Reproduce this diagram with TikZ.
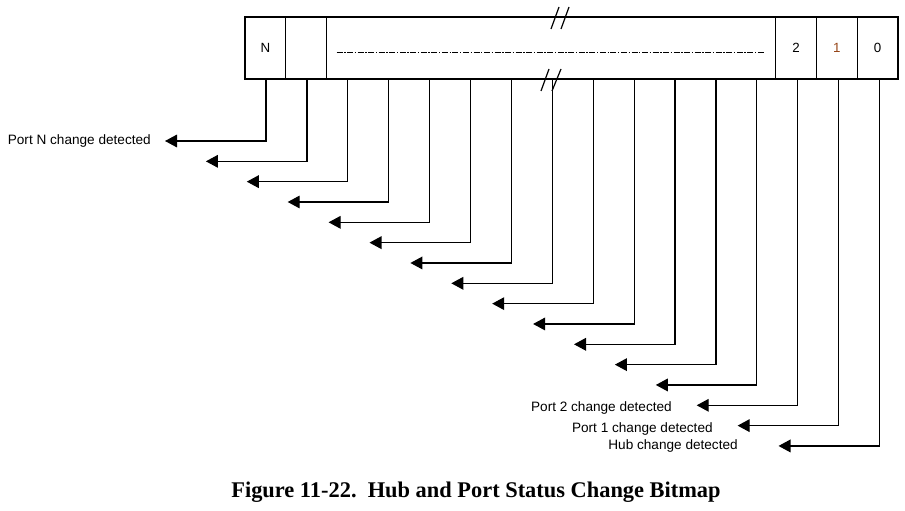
\documentclass[tikz,border=0pt]{standalone}
\usepackage{fontspec}
\setmainfont{Liberation Serif}
\newfontfamily\arialfont{Liberation Sans}
\usetikzlibrary{positioning,arrows.meta}

\definecolor{bitone}{RGB}{150,70,25}

\tikzset{
  cell/.style={draw, line width=1pt, minimum width=30.6pt, minimum height=46.5pt,
    inner sep=0pt, outer sep=0pt, font=\arialfont\fontsize{10}{12}\selectfont},
  lbl/.style={inner sep=0pt, font=\arialfont\fontsize{10.2}{12}\selectfont},
  bitline/.style={->, line width=0.9pt},
}

\begin{document}
\begin{tikzpicture}[x=0.75pt, y=-0.75pt, >={Triangle[length=9pt,width=9.5pt]}]
  \useasboundingbox (0,0) rectangle (905,510);
  % the bitmap
  \node [cell, anchor=north west] (bitN) at (245,17) {N};
  \node [cell, right=0pt of bitN] (bitM) {};
  \node [cell, right=0pt of bitM, minimum width=336.75pt] (mid) {};
  \node [cell, right=0pt of mid] (bit2) {2};
  \node [cell, right=0pt of bit2, text=bitone] (bit1) {1};
  \node [cell, right=0pt of bit1] (bit0) {0};
  \draw [line width=0.6pt, dash pattern=on 4.5pt off 1.2pt on 1pt off 1.2pt]
    ([xshift=7.5pt, yshift=-3pt]mid.west) -- ([xshift=-8pt, yshift=-3pt]mid.east);
  % break marks
  \draw [line width=0.9pt] (551,29) -- (559,7) (561,29) -- (569,7);
  \draw [line width=0.9pt] (541,91) -- (549,69) (552,91) -- (561,69);
  % one line per bit
  \foreach \i in {0,...,15} {
    \coordinate (tap\i) at ({266+40.9*\i},79);
    \coordinate (tip\i) at ({165+40.9*\i},{141+20.33*\i});
    \draw [bitline] (tap\i) |- (tip\i);
  }
  \node [lbl, left=10.5pt of tip0] (labN) {Port N change detected};
  \node [lbl, left=18.5pt of tip13, yshift=-2.2pt] (lab2) {Port 2 change detected};
  \node [lbl, left=18.5pt of tip14, yshift=-2.2pt] (lab1) {Port 1 change detected};
  \node [lbl, left=30.4pt of tip15] (labhub) {Hub change detected};
  \node [font=\bfseries\fontsize{16.8}{20}\selectfont] (caption) at (476,492)
    {Figure 11-22.\ \ Hub and Port Status Change Bitmap};
\end{tikzpicture}
\end{document}
